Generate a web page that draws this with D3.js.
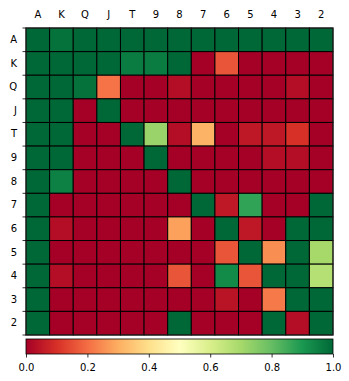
<!DOCTYPE html>
<html>
<head>
<meta charset="utf-8">
<script src="https://cdn.jsdelivr.net/npm/d3@7"></script>
<style>
  body { margin: 0; background: #fff; }
  text { font-family: "DejaVu Sans", sans-serif; }
</style>
</head>
<body>
<div id="chart"></div>
<script>
const ranks = ["A", "K", "Q", "J", "T", "9", "8", "7", "6", "5", "4", "3", "2"];

// one array per row, columns in rank order A..2
const rowA = [1, 0.98, 1, 1, 1, 1, 1, 1, 1, 1, 1, 1, 1];
const rowK = [1, 1, 1, 1, 0.96, 0.96, 1, 0, 0.16, 0, 0, 0, 0];
const rowQ = [1, 1, 0.98, 0.21, 0, 0, 0.03, 0, 0, 0, 0, 0.03, 0];
const rowJ = [1, 1, 0, 1, 0, 0, 0, 0, 0, 0, 0, 0, 0];
const rowT = [1, 1, 0, 0, 1, 0.72, 0.03, 0.31, 0, 0.05, 0.05, 0.1, 0];
const row9 = [1, 1, 0, 0, 0, 1, 0, 0, 0, 0, 0.03, 0.03, 0];
const row8 = [1, 0.95, 0, 0, 0, 0, 1, 0, 0, 0, 0, 0, 0];
const row7 = [1, 0, 0, 0, 0, 0, 0, 1, 0.05, 0.87, 0, 0, 1];
const row6 = [1, 0.03, 0, 0, 0, 0, 0.28, 0, 1, 0.05, 0, 1, 1];
const row5 = [1, 0, 0, 0, 0, 0, 0, 0, 0.16, 1, 0.25, 1, 0.7];
const row4 = [1, 0.03, 0, 0, 0, 0, 0.16, 0, 0.93, 0.16, 1, 1, 0.67];
const row3 = [1, 0, 0, 0, 0, 0, 0, 0, 0.04, 0, 0.22, 1, 1];
const row2 = [1, 0, 0, 0, 0, 0, 1, 0, 0, 0, 1, 0.03, 1];
const rows = [rowA, rowK, rowQ, rowJ, rowT, row9, row8, row7, row6, row5, row4, row3, row2];

const cbarTicks = [0, 0.2, 0.4, 0.6, 0.8, 1.0];
// RdYlGn anchor colours
const rdylgn = ["#a50026", "#d73027", "#f46d43", "#fdae61", "#fee08b", "#ffffbf",
                "#d9ef8b", "#a6d96a", "#66bd63", "#1a9850", "#006837"];

const W = 349, H = 381;
const gridLeft = 26, gridTop = 28, gridSize = 307;

const svg = d3.select("#chart").append("svg")
  .attr("width", W).attr("height", H);

const color = d3.scaleLinear()
  .domain(d3.range(rdylgn.length).map(i => i / (rdylgn.length - 1)))
  .range(rdylgn)
  .interpolate(d3.interpolateRgb);

const x = d3.scaleBand().domain(ranks).range([gridLeft, gridLeft + gridSize]);
const y = d3.scaleBand().domain(ranks).range([gridTop, gridTop + gridSize]);

const cells = [];
rows.forEach((r, i) => r.forEach((v, j) => cells.push({ row: ranks[i], col: ranks[j], v: v })));

svg.append("g").selectAll("rect")
  .data(cells)
  .enter().append("rect")
  .attr("x", d => x(d.col))
  .attr("y", d => y(d.row))
  .attr("width", x.bandwidth())
  .attr("height", y.bandwidth())
  .attr("fill", d => color(d.v))
  .attr("stroke", "#000")
  .attr("stroke-width", 1);

svg.append("rect")
  .attr("x", gridLeft).attr("y", gridTop)
  .attr("width", gridSize).attr("height", gridSize)
  .attr("fill", "none").attr("stroke", "#222").attr("stroke-width", 1);

// small tick marks on the left sit on the row boundaries
const bounds = d3.scaleLinear().domain([0, ranks.length]).range([gridTop, gridTop + gridSize]);
svg.append("g").selectAll("line")
  .data(d3.range(ranks.length + 1))
  .enter().append("line")
  .attr("x1", gridLeft - 3.5).attr("x2", gridLeft)
  .attr("y1", d => bounds(d)).attr("y2", d => bounds(d))
  .attr("stroke", "#000").attr("stroke-width", 0.8);

const xAxis = svg.append("g")
  .attr("transform", `translate(0,${gridTop})`)
  .call(d3.axisTop(x).tickSize(0).tickPadding(10.5));
const yAxis = svg.append("g")
  .attr("transform", `translate(${gridLeft},0)`)
  .call(d3.axisLeft(y).tickSize(0).tickPadding(9));
[xAxis, yAxis].forEach(a => {
  a.select(".domain").remove();
  a.selectAll("line").remove();
  a.selectAll("text").attr("font-size", 10).attr("fill", "#000")
    .style("font-family", "DejaVu Sans, sans-serif");
});

// colorbar
const cbY = 339, cbH = 15;
const grad = svg.append("defs").append("linearGradient")
  .attr("id", "cbgrad").attr("x1", "0%").attr("x2", "100%");
d3.range(0, 1.0001, 0.02).forEach(t => {
  grad.append("stop").attr("offset", (t * 100) + "%").attr("stop-color", color(t));
});
svg.append("rect")
  .attr("x", gridLeft).attr("y", cbY)
  .attr("width", gridSize).attr("height", cbH)
  .attr("fill", "url(#cbgrad)")
  .attr("stroke", "#000").attr("stroke-width", 0.8);

const cb = d3.scaleLinear().domain([0, 1]).range([gridLeft, gridLeft + gridSize]);
const cbAxis = svg.append("g")
  .attr("transform", `translate(0,${cbY + cbH})`)
  .call(d3.axisBottom(cb).tickValues(cbarTicks).tickFormat(d3.format(".1f"))
    .tickSize(3.5).tickPadding(6));
cbAxis.select(".domain").remove();
cbAxis.selectAll("text").attr("font-size", 10).attr("fill", "#000")
  .style("font-family", "DejaVu Sans, sans-serif");
cbAxis.selectAll("line").attr("stroke", "#000").attr("stroke-width", 0.8);
</script>
</body>
</html>
